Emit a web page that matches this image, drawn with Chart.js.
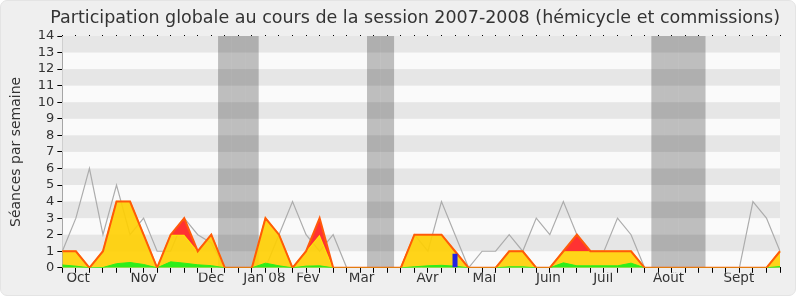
<!DOCTYPE html>
<html><head><meta charset="utf-8">
<script src="https://cdn.jsdelivr.net/npm/chart.js@4.4.0/dist/chart.umd.min.js"></script>
<style>
html,body{margin:0;padding:0;background:#fff;width:800px;height:300px;overflow:hidden;}
#frame{position:absolute;left:0;top:0;width:794px;height:294px;background:#efefef;border:1px solid #e4e4e4;border-radius:7px;}
#c{position:absolute;left:0;top:0;}
</style></head>
<body>
<div id="frame"></div>
<canvas id="c" width="800" height="300"></canvas>
<script>
// ---- data ----
const weeks = ['07-40','07-41','07-42','07-43','07-44','07-45','07-46','07-47','07-48','07-49','07-50','07-51','07-52',
  '08-01','08-02','08-03','08-04','08-05','08-06','08-07','08-08','08-09','08-10','08-11','08-12','08-13','08-14',
  '08-15','08-16','08-17','08-18','08-19','08-20','08-21','08-22','08-23','08-24','08-25','08-26','08-27','08-28',
  '08-29','08-30','08-31','08-32','08-33','08-34','08-35','08-36','08-37','08-38','08-39','08-40','08-41'];
const monthLabels = ['Oct','Nov','Déc','Jan 08','Fév','Mar','Avr','Mai','Juin','Juil','Août','Sept'];
const monthTicks = [1.16, 6.0, 10.98, 14.92, 18.13, 22.1, 26.97, 31.17, 35.89, 39.94, 44.77, 49.96];
const vacationWeeks = [12,13,14,23,24,44,45,46,47];
const totalSessions = [1,1,0,1,4,4,2,0,2,3,1,2,0,0,0,3,2,0,1,3,0,0,0,0,0,0,2,2,2,1,0,0,0,1,1,0,0,1,2,1,1,1,1,0,0,0,0,0,0,0,0,0,0,1];
const presences     = [1,1,0,1,4,4,2,0,2,2,1,2,0,0,0,3,2,0,1,2,0,0,0,0,0,0,2,2,2,1,0,0,0,1,1,0,0,1,1,1,1,1,1,0,0,0,0,0,0,0,0,0,0,1];
const commission    = [0.17,0.1,0,0.02,0.25,0.32,0.2,0,0.36,0.28,0.18,0.13,0,0,0,0.28,0.12,0,0.1,0.12,0,0,0,0,0,0,0.06,0.12,0.15,0.1,0,0,0,0.06,0.06,0,0,0.3,0.12,0.12,0.12,0.12,0.28,0,0,0,0,0,0,0,0,0,0,0.08];
const mediane       = [1,3,6,2,5,2,3,1,1,3,2,1.5,0,0,0,0,2,4,2,1,2,0,0,0,0,0,2,1,4,2,0,1,1,2,1,3,2,4,2,1,1,3,2,0,0,0,0,0,0,0,0,4,3,1];
const questions     = weeks.map((w,i)=> i===29 ? 0.85 : null);
const yMax = 14;

Chart.defaults.font.family = "'DejaVu Sans', sans-serif";
Chart.defaults.color = '#333';

const stripes = {
  id:'stripes',
  beforeDatasetsDraw(chart){
    const {ctx, chartArea:a, scales:{y}} = chart;
    ctx.save();
    ctx.fillStyle='#fafafa';
    ctx.fillRect(a.left,a.top,a.width,a.height);
    ctx.fillStyle='#e6e6e6';
    for(let k=1;k<yMax;k+=2){
      const t=y.getPixelForValue(k+1), b=y.getPixelForValue(k);
      ctx.fillRect(a.left,t,a.width,b-t);
    }
    ctx.restore();
  }
};

const bandData = weeks.map((w,i)=> vacationWeeks.includes(i) ? yMax : null);

new Chart(document.getElementById('c'), {
  type:'line',
  data:{
    labels: weeks,
    datasets:[
      {type:'line', label:'Médiane', data:mediane, borderColor:'rgb(172,172,172)', borderWidth:1.2, pointRadius:0, fill:false, order:5},
      {type:'line', label:'Présences', data:presences, borderColor:'rgb(255,238,0)', backgroundColor:'rgba(255,207,0,0.9)', borderWidth:1.5, pointRadius:0, fill:'origin', order:4},
      {type:'line', label:'Commission', data:commission, borderColor:'rgb(45,238,25)', backgroundColor:'rgb(45,238,25)', borderWidth:1, pointRadius:0, fill:'origin', order:3},
      {type:'line', label:'Participation', data:totalSessions, borderColor:'rgb(255,90,10)', backgroundColor:'rgb(255,50,50)', borderWidth:2, pointRadius:0, fill:1, order:2},
      {type:'bar', label:'Questions', data:questions, backgroundColor:'rgb(35,35,225)', barPercentage:0.37, categoryPercentage:1, grouped:false, borderWidth:0, inflateAmount:0, order:1},
      {type:'bar', label:'Vacances', data:bandData, backgroundColor:'rgba(0,0,0,0.24)', barPercentage:1, categoryPercentage:1, grouped:false, borderWidth:0, inflateAmount:0, order:10}
    ]
  },
  options:{
    responsive:false, animation:false,
    layout:{padding:{left:8,right:20,top:0,bottom:15}},
    plugins:{
      legend:{display:false}, tooltip:{enabled:false},
      title:{display:true, align:'end', text:'Participation globale au cours de la session 2007-2008 (hémicycle et commissions)',
        color:'#333', font:{size:17.5, weight:'normal'}, padding:{top:8,bottom:6}}
    },
    scales:{
      x:{type:'category', position:'bottom', offset:false, weight:1, z:1,
        grid:{display:true, drawOnChartArea:false, drawTicks:true, tickLength:5, color:'#000', offset:false},
        border:{display:true, color:'#000', width:1},
        ticks:{display:false, autoSkip:false}},
      xt:{type:'category', position:'top', offset:false, z:1,
        grid:{display:true, drawOnChartArea:false, tickLength:1, color:'#000', offset:false},
        border:{display:false}, ticks:{display:false, autoSkip:false}},
      xm:{type:'linear', position:'bottom', weight:2, min:0, max:weeks.length-1,
        grid:{display:false, drawTicks:false}, border:{display:false},
        afterBuildTicks:(ax)=>{ ax.ticks = monthTicks.map(v=>({value:v})); },
        ticks:{autoSkip:false, maxRotation:0, padding:-2, color:'#333', font:{size:13.5}, callback:(v,i)=>monthLabels[i]}},
      y:{min:0, max:yMax, z:1,
        ticks:{stepSize:1, autoSkip:false, color:'#333', font:{size:13}, padding:3},
        grid:{drawOnChartArea:false, tickLength:5, color:'#000'},
        border:{color:'#000'},
        title:{display:true, text:'Séances par semaine', color:'#333', font:{size:14}, padding:{top:0,bottom:10}}}
    }
  },
  plugins:[stripes]
});
</script>
</body></html>
